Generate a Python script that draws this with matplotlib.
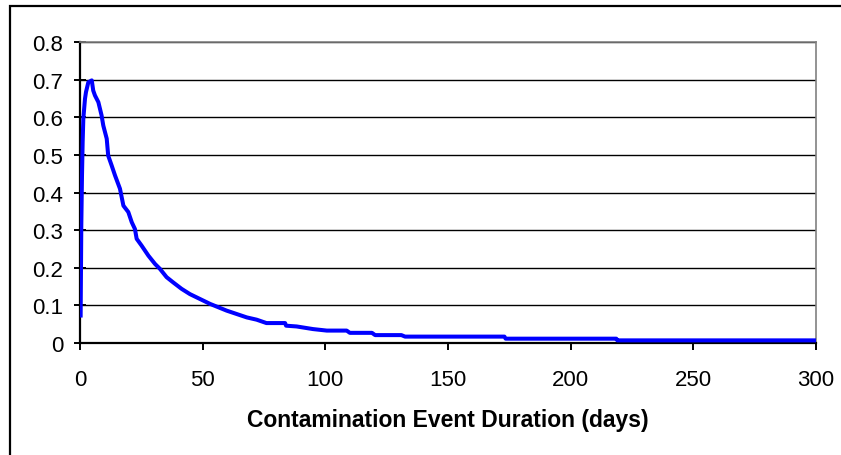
"""Contamination event duration curve (Excel-style line chart)."""

import matplotlib

matplotlib.use("Agg")
import matplotlib.pyplot as plt
from matplotlib.patches import Rectangle

matplotlib.rcParams["font.family"] = ["Liberation Sans", "DejaVu Sans"]

# durations (days) and curve values
days = [0.27, 0.54, 0.82, 1.09, 1.36, 2.04, 2.45, 3.4, 4.8, 5.4, 6.1, 7.5,
        8.8, 9.5, 10.9, 11.5, 12.9, 14.3, 16.3, 17.7, 19.7, 21.1, 22.4,
        23.1, 25.1, 27.9, 30.6, 32.6, 35.3, 38.0, 41.4, 44.8, 48.9, 53.0,
        56.4, 59.8, 63.9, 68, 72, 76, 83.6, 84, 88.3, 95, 100.6, 108.7,
        110, 119, 120.3, 131, 132.5, 173, 173.5, 218.6, 219, 300]
values = [0.073, 0.312, 0.445, 0.534, 0.596, 0.649, 0.667, 0.693, 0.698,
          0.671, 0.658, 0.640, 0.605, 0.578, 0.543, 0.498, 0.472, 0.445,
          0.410, 0.365, 0.348, 0.321, 0.303, 0.277, 0.259, 0.232, 0.210,
          0.197, 0.175, 0.161, 0.144, 0.130, 0.117, 0.104, 0.095, 0.086,
          0.077, 0.068, 0.062, 0.053, 0.053, 0.046, 0.044, 0.037, 0.033,
          0.033, 0.027, 0.027, 0.021, 0.021, 0.017, 0.017, 0.0115, 0.0115,
          0.007, 0.007]

x_ticks = [0, 50, 100, 150, 200, 250, 300]
y_ticks = [0, 0.1, 0.2, 0.3, 0.4, 0.5, 0.6, 0.7, 0.8]


def main():
    fig = plt.figure(figsize=(8.41, 4.56), dpi=100)
    ax = fig.add_axes([0.0951, 0.2456, 0.8752, 0.6601])

    # outer chart frame (only top/left edges fall inside the image)
    fig.patches.append(Rectangle((9.5 / 841, -0.1), 1.2, 1.1 - 6.5 / 456,
                                 transform=fig.transFigure, fill=False,
                                 edgecolor="black", lw=1.6))

    ax.plot(days, values, color="#0000ff", lw=2.9, zorder=3)

    ax.set_xlim(0, 300)
    ax.set_ylim(0, 0.8)
    ax.set_xticks(x_ticks)
    ax.set_yticks(y_ticks)
    ax.set_yticklabels(["0" if v == 0 else f"{v:.1f}" for v in y_ticks])
    ax.yaxis.grid(True, color="black", lw=1.0)
    ax.set_axisbelow(True)

    for side in ("top", "right"):
        ax.spines[side].set_color("#808080")
        ax.spines[side].set_linewidth(1.2)
    for side in ("left", "bottom"):
        ax.spines[side].set_color("black")
        ax.spines[side].set_linewidth(1.6)

    ax.tick_params(axis="x", direction="out", length=5, width=1.4,
                   labelsize=16, pad=14, colors="black")
    ax.tick_params(axis="y", direction="inout", length=8, width=1.4,
                   labelsize=16, pad=8, colors="black")
    ax.set_xlabel("Contamination Event Duration (days)", fontsize=16.5,
                  fontweight="bold", labelpad=13)

    fig.savefig("out.png", dpi=100)


if __name__ == "__main__":
    main()
